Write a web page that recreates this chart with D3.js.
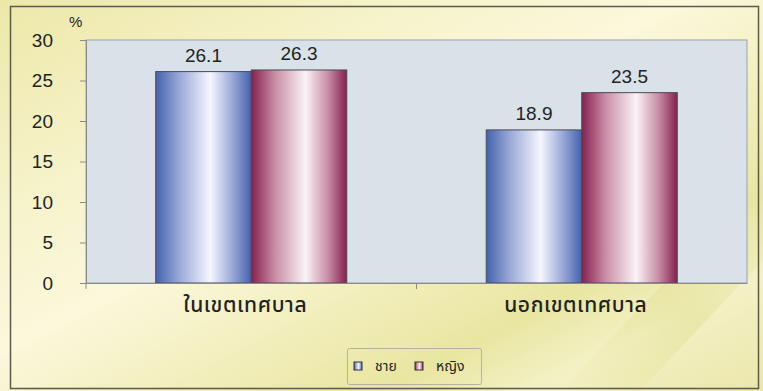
<!DOCTYPE html>
<html><head><meta charset="utf-8">
<script src="https://cdn.jsdelivr.net/npm/d3@7"></script>
<style>body{margin:0;background:#f2efc0;}svg{display:block;}</style>
</head><body>
<svg id="c" width="763" height="391"></svg>
<script>
const categories = ["ในเขตเทศบาล", "นอกเขตเทศบาล"];
const seriesNames = ["ชาย", "หญิง"];
const male = [26.1, 18.9];
const female = [26.3, 23.5];
const yTicks = [0, 5, 10, 15, 20, 25, 30];

const svg = d3.select("#c");
const W = 763, H = 391;
const defs = svg.append("defs");

// background gradient
const bg = defs.append("linearGradient").attr("id","bg").attr("x1","0").attr("y1","0").attr("x2","1").attr("y2","1");
[[0,"#ede8a8"],[0.25,"#f6f2c8"],[0.45,"#fbf8dc"],[0.6,"#f3efbe"],[0.75,"#e9e6a2"],[0.85,"#f4f1c6"],[1,"#ebe7aa"]].forEach(s=>bg.append("stop").attr("offset",s[0]).attr("stop-color",s[1]));
svg.append("rect").attr("width",W).attr("height",H).attr("fill","url(#bg)");
const st = defs.append("linearGradient").attr("id","streak").attr("x1","0").attr("y1","1").attr("x2","1").attr("y2","0");
[[0,"#e4e197",0],[0.5,"#e4e197",0.55],[1,"#e4e197",0]].forEach(s=>st.append("stop").attr("offset",s[0]).attr("stop-color",s[1]).attr("stop-opacity",s[2]));
svg.append("path").attr("d","M560,391 L763,180 L763,260 L640,391 Z").attr("fill","url(#streak)");

// outer frame
svg.append("rect").attr("x",10.5).attr("y",6.5).attr("width",748).attr("height",382)
  .attr("fill","none").attr("stroke","#5a5a50").attr("stroke-width",1.5);

const margin = {left:86, top:40, right:747, bottom:283};
const x = d3.scaleBand().domain(categories).range([margin.left, margin.right]);
const y = d3.scaleLinear().domain([0,30]).range([margin.bottom, margin.top]);
const inner = d3.scaleBand().domain(seriesNames).range([0, x.bandwidth()]).paddingInner(0).paddingOuter(0.73);

// plot area
svg.append("rect").attr("x",margin.left).attr("y",margin.top)
  .attr("width",margin.right-margin.left).attr("height",margin.bottom-margin.top)
  .attr("fill","#dae2e9").attr("stroke","#9aa0a6").attr("stroke-width",1);

function barGrad(id, dark, mid, light){
  const g = defs.append("linearGradient").attr("id",id).attr("x1","0").attr("x2","1").attr("y1","0").attr("y2","0");
  [[0,dark],[0.25,mid],[0.57,light],[0.8,mid],[1,dark]].forEach(s=>g.append("stop").attr("offset",s[0]).attr("stop-color",s[1]));
}
barGrad("gm","#4462ad","#9ba9d8","#f6f6ff");
barGrad("gf","#86204f","#c98ea6","#faf3f6");
const fills = ["url(#gm)","url(#gf)"];

const data = categories.map((c,i)=>({c, vals:[male[i], female[i]]}));
const g = svg.append("g");
data.forEach(d=>{
  d.vals.forEach((v,j)=>{
    const bx = x(d.c)+inner(seriesNames[j]);
    g.append("rect").attr("x",bx).attr("y",y(v)).attr("width",inner.bandwidth()).attr("height",y(0)-y(v))
      .attr("fill",fills[j]).attr("stroke","#4a4a55").attr("stroke-width",1);
    g.append("text").attr("x",bx+inner.bandwidth()/2).attr("y",y(v)-10)
      .attr("text-anchor","middle").attr("font-family","Liberation Sans, Arial, sans-serif")
      .attr("font-size",19).attr("fill","#222").text(v.toFixed(1));
  });
});

// y axis
const yAxis = d3.axisLeft(y).tickValues(yTicks).tickSize(6).tickPadding(27).tickFormat(d3.format("d"));
const ya = svg.append("g").attr("transform",`translate(${margin.left},0)`).call(yAxis);
ya.select(".domain").attr("stroke","#8a8a8a");
ya.selectAll(".tick line").attr("stroke","#8a8a8a");
ya.selectAll("text").attr("font-family","Liberation Sans, Arial, sans-serif").attr("font-size",19).attr("fill","#222");

// x axis
const xa = svg.append("g").attr("transform",`translate(0,${margin.bottom})`)
  .call(d3.axisBottom(x).tickSize(0).tickPadding(14));
xa.select(".domain").attr("stroke","#8a8a8a");
xa.selectAll("text").attr("font-family","Noto Sans Thai, Noto Sans, sans-serif").attr("font-size",21)
  .attr("font-weight",500).attr("letter-spacing",0.6).attr("fill","#222").attr("dx",-6);
svg.append("line").attr("x1",margin.left+x.step()).attr("x2",margin.left+x.step()).attr("y1",margin.bottom).attr("y2",margin.bottom+6).attr("stroke","#8a8a8a");
svg.append("line").attr("x1",margin.left).attr("x2",margin.left).attr("y1",margin.bottom).attr("y2",margin.bottom+6).attr("stroke","#8a8a8a");

// % label
svg.append("text").attr("x",69).attr("y",27).attr("font-family","Liberation Sans, Arial, sans-serif").attr("font-size",15).attr("fill","#222").text("%");

// legend
const lg = svg.append("g");
lg.append("rect").attr("x",347.5).attr("y",348.5).attr("width",134).attr("height",36).attr("rx",2)
  .attr("fill","none").attr("stroke","#b5b39a");
const lx = [354, 415];
seriesNames.forEach((n,j)=>{
  lg.append("rect").attr("x",lx[j]).attr("y",362).attr("width",8).attr("height",8).attr("fill",fills[j]).attr("stroke","#333").attr("stroke-width",1);
  lg.append("text").attr("x",lx[j]+21).attr("y",371).attr("font-family","Noto Sans Thai, Noto Sans, sans-serif").attr("font-size",14).attr("fill","#222").text(n);
});
</script>
</body></html>
